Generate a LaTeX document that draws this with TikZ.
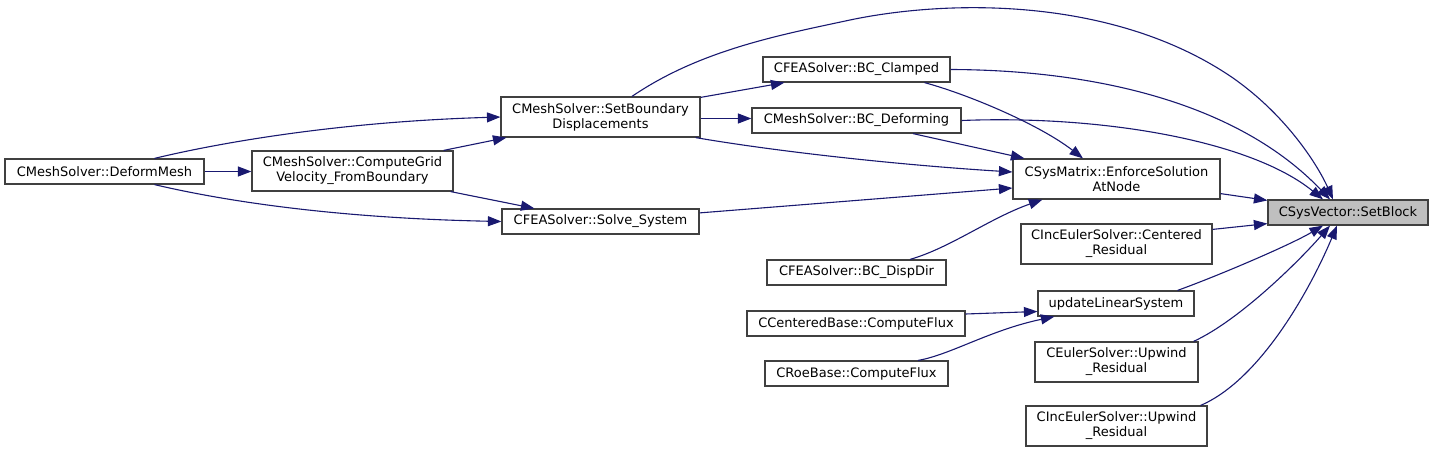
\documentclass[tikz,border=0pt]{standalone}
\usepackage{fontspec}
\setmainfont{DejaVu Sans}
\usetikzlibrary{arrows.meta,calc}

\begin{document}
\begin{tikzpicture}[
    x=1pt,
    y=-1pt,
    font=\fontsize{13}{15}\selectfont,
    fn/.style={
        draw=boxline,
        fill=white,
        line width=1.2pt,
        inner sep=0pt,
        align=center,
        minimum height=#1
    },
    fn/.default=25,
    target/.style={fn, fill=targetfill},
    call/.style={draw=edgeblue, line width=1.1pt, -{Triangle[length=13.5pt,width=10pt]}}
]

\definecolor{edgeblue}{RGB}{25,25,112}
\definecolor{boxline}{RGB}{64,64,64}
\definecolor{targetfill}{RGB}{191,191,191}

\path[use as bounding box] (0,0) rectangle (1433,453);

% Function boxes, column by column.
\node[fn, minimum width=199] (deformmesh) at (104.5,171.5) {CMeshSolver::DeformMesh};
\node[fn=40, minimum width=201] (computegrid) at (352.5,171)
    {CMeshSolver::ComputeGrid\\Velocity\_FromBoundary};
\node[fn=40, minimum width=199] (setboundary) at (600.5,117)
    {CMeshSolver::SetBoundary\\Displacements};
\node[fn, minimum width=197] (solvesystem) at (600.5,221.5) {CFEASolver::Solve\_System};

\node[fn, minimum width=187] (bcclamped) at (856.5,69.5) {CFEASolver::BC\_Clamped};
\node[fn, minimum width=209] (bcdeforming) at (856.5,120.5) {CMeshSolver::BC\_Deforming};
\node[fn, minimum width=179] (bcdispdir) at (856.5,272.5) {CFEASolver::BC\_DispDir};
\node[fn, minimum width=218] (centeredflux) at (856,323.5) {CCenteredBase::ComputeFlux};
\node[fn, minimum width=183] (roeflux) at (856.5,373.5) {CRoeBase::ComputeFlux};

\node[fn=40, minimum width=207] (enforcesol) at (1116.5,179)
    {CSysMatrix::EnforceSolution\\AtNode};
\node[fn=40, minimum width=191] (centeredres) at (1116.5,244)
    {CIncEulerSolver::Centered\\\_Residual};
\node[fn, minimum width=156] (updatelin) at (1116,303.5) {updateLinearSystem};
\node[fn=40, minimum width=163] (eulerupwind) at (1116.5,362)
    {CEulerSolver::Upwind\\\_Residual};
\node[fn=40, minimum width=181] (inceulerupwind) at (1116.5,426)
    {CIncEulerSolver::Upwind\\\_Residual};

\node[target, minimum width=160] (setblock) at (1348,212.5) {CSysVector::SetBlock};

% Calls out of DeformMesh.
\draw[call] (deformmesh) -- (deformmesh -| computegrid.west);
\draw[call] ($(deformmesh.north)+(50,0)$)
    .. controls (210,145) and (330,122) .. (setboundary.west);
\draw[call] ($(deformmesh.south)+(50,0)$)
    .. controls (220,200) and (330,218) .. (solvesystem.west);

% Calls out of ComputeGrid.
\draw[call] ($(computegrid.north east)+(-10,0)$) -- ($(setboundary.south west)+(6,0)$);
\draw[call] ($(computegrid.south east)+(-3,0)$) -- ($(solvesystem.north west)+(33,0)$);

% Calls out of SetBoundary.
\draw[call] ($(setboundary.north east)+(0,1)$) -- ($(bcclamped.south west)+(22,0)$);
\draw[call] ($(setboundary.east)+(0,1.5)$) -- ($(bcdeforming.west)+(0,-2)$);
\draw[call] ($(setboundary.south east)+(-5,0)$)
    .. controls (780,152) and (900,165) .. ($(enforcesol.west)+(0,-7)$);
\draw[call] ($(setboundary.north)+(31.5,0)$)
    .. controls (700,50) and (780,35) .. (850,20)
    .. controls (950,-1) and (1115,-3) .. (1233,78)
    .. controls (1290,118) and (1320,170) .. ($(setblock.north)+(-15,0)$);

% Boundary condition routines.
\draw[call] ($(bcclamped.south)+(68,0)$)
    .. controls (970,95) and (1040,125) .. ($(enforcesol.north)+(-33.5,0)$);
\draw[call] (bcclamped.east)
    .. controls (1100,70) and (1240,105) .. ($(setblock.north)+(-18,0)$);
\draw[call] ($(bcdeforming.south)+(56.5,0)$) -- ($(enforcesol.north west)+(12,0)$);
\draw[call] (bcdeforming.east)
    .. controls (1100,115) and (1250,140) .. ($(setblock.north)+(-25,0)$);
\draw[call] ($(solvesystem.north east)+(0,4.5)$) -- ($(enforcesol.west)+(0,9)$);
\draw[call] ($(bcdispdir.north)+(53.5,0)$)
    .. controls (950,248) and (990,218) .. ($(enforcesol.south west)+(30,0)$);

% Flux routines into updateLinearSystem.
\draw[call] ($(centeredflux.east)+(0,-9.5)$) -- ($(updatelin.west)+(0,8)$);
\draw[call] ($(roeflux.north)+(61.5,0)$)
    .. controls (950,355) and (990,330) .. ($(updatelin.south west)+(17,0)$);

% Everything that ends in SetBlock.
\draw[call] ($(enforcesol.south east)+(0,-6)$) -- ($(setblock.north west)+(0,1)$);
\draw[call] ($(centeredres.north east)+(0,6)$) -- ($(setblock.south west)+(0,-2)$);
\draw[call] ($(updatelin.north east)+(-17,0)$)
    .. controls (1220,275) and (1290,245) .. ($(setblock.south)+(-25,0)$);
\draw[call] ($(eulerupwind.north east)+(-5,0)$)
    .. controls (1240,320) and (1300,260) .. ($(setblock.south)+(-18,0)$);
\draw[call] ($(inceulerupwind.north east)+(-7,0)$)
    .. controls (1260,380) and (1310,290) .. ($(setblock.south)+(-11,0)$);

\end{tikzpicture}
\end{document}
